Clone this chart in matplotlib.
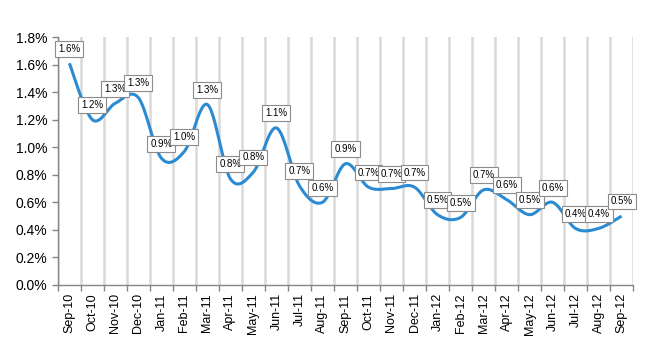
import numpy as np
import matplotlib
matplotlib.use('Agg')
import matplotlib.pyplot as plt
from matplotlib.ticker import FuncFormatter, FixedLocator

months = ['Sep-10', 'Oct-10', 'Nov-10', 'Dec-10', 'Jan-11', 'Feb-11', 'Mar-11',
          'Apr-11', 'May-11', 'Jun-11', 'Jul-11', 'Aug-11', 'Sep-11', 'Oct-11',
          'Nov-11', 'Dec-11', 'Jan-12', 'Feb-12', 'Mar-12', 'Apr-12', 'May-12',
          'Jun-12', 'Jul-12', 'Aug-12', 'Sep-12']
rate = [1.61, 1.20, 1.32, 1.36, 0.92, 0.97, 1.31, 0.77, 0.82, 1.14, 0.72, 0.60,
        0.88, 0.71, 0.70, 0.71, 0.51, 0.49, 0.69, 0.62, 0.51, 0.60, 0.41, 0.41, 0.50]
labels = ['1.6%', '1.2%', '1.3%', '1.3%', '0.9%', '1.0%', '1.3%', '0.8%', '0.8%',
          '1.1%', '0.7%', '0.6%', '0.9%', '0.7%', '0.7%', '0.7%', '0.5%', '0.5%',
          '0.7%', '0.6%', '0.5%', '0.6%', '0.4%', '0.4%', '0.5%']


def smooth(x, y, steps=30):
    # excel-style smoothed line (catmull-rom bezier)
    x = np.asarray(x, float)
    y = np.asarray(y, float)
    px = np.concatenate([[x[0]], x, [x[-1]]])
    py = np.concatenate([[y[0]], y, [y[-1]]])
    xs, ys = [], []
    t = np.linspace(0, 1, steps)
    for i in range(1, len(px) - 2):
        p0 = np.array([px[i], py[i]])
        p3 = np.array([px[i + 1], py[i + 1]])
        c1 = p0 + (p3 - np.array([px[i - 1], py[i - 1]])) / 6
        c2 = p3 - (np.array([px[i + 2], py[i + 2]]) - p0) / 6
        pts = ((1 - t) ** 3)[:, None] * p0 + (3 * (1 - t) ** 2 * t)[:, None] * c1 \
            + (3 * (1 - t) * t ** 2)[:, None] * c2 + (t ** 3)[:, None] * p3
        xs.extend(pts[:, 0])
        ys.extend(pts[:, 1])
    return np.array(xs), np.array(ys)


plt.rcParams['font.family'] = ['Liberation Sans', 'DejaVu Sans']
fig = plt.figure(figsize=(6.5, 3.5), dpi=100)
ax = fig.add_axes([0.089, 0.186, 0.885, 0.708])

x = np.arange(len(months))
sx, sy = smooth(x, rate)
ax.plot(sx, sy, color='#2a8ad2', linewidth=2.2, zorder=3, solid_capstyle='butt')

for i, (v, lab) in enumerate(zip(rate, labels)):
    ax.annotate(lab, (i, v), xytext=(0, 10.5), textcoords='offset points',
                ha='center', va='center', fontsize=7, zorder=5,
                bbox=dict(boxstyle='square,pad=0.3', fc='white', ec='#8c8c8c', lw=0.8))

ax.set_xlim(-0.5, len(months) - 0.5)
ax.set_ylim(0, 1.8)
ax.set_yticks(np.arange(0, 1.81, 0.2))
ax.yaxis.set_major_formatter(FuncFormatter(lambda v, p: f'{v:.1f}%'))

ax.set_xticks(x)
ax.set_xticklabels(months, rotation=90, fontsize=9)
ax.xaxis.set_minor_locator(FixedLocator(np.arange(-0.5, len(months), 1.0)))
ax.tick_params(axis='x', which='major', length=0, pad=6)
ax.tick_params(axis='x', which='minor', length=4, color='#868686', width=1)
ax.tick_params(axis='y', labelsize=10, length=4, color='#868686', width=1)
ax.grid(True, axis='x', which='minor', color='#d9d9d9', linewidth=1.8, zorder=0)
ax.set_axisbelow(True)

for s in ['top', 'right']:
    ax.spines[s].set_visible(False)
for s in ['left', 'bottom']:
    ax.spines[s].set_color('#868686')
    ax.spines[s].set_linewidth(1)

plt.savefig('out.png', dpi=100)
